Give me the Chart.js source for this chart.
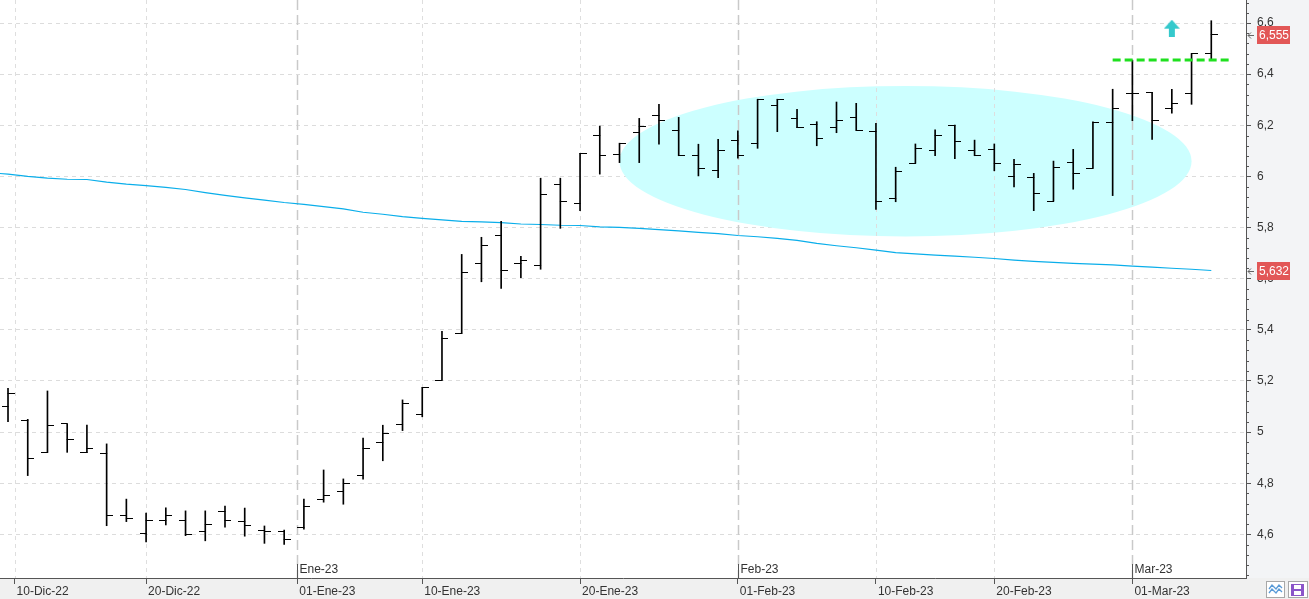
<!DOCTYPE html>
<html>
<head>
<meta charset="utf-8">
<script src="https://cdn.jsdelivr.net/npm/chart.js@4.4.0/dist/chart.umd.min.js"></script>
<style>
html, body { margin: 0; padding: 0; background: #fff; }
#wrap { width: 1309px; height: 599px; position: relative; }
</style>
</head>
<body>
<div id="wrap"><canvas id="chart"></canvas></div>
<script>
// Sessions (BME, closed 26-Dic)
const days = [
    '2022-12-09', '2022-12-12', '2022-12-13', '2022-12-14', '2022-12-15', '2022-12-16', '2022-12-19',
    '2022-12-20', '2022-12-21', '2022-12-22', '2022-12-23', '2022-12-27', '2022-12-28', '2022-12-29',
    '2022-12-30', '2023-01-02', '2023-01-03', '2023-01-04', '2023-01-05', '2023-01-06', '2023-01-09',
    '2023-01-10', '2023-01-11', '2023-01-12', '2023-01-13', '2023-01-16', '2023-01-17', '2023-01-18',
    '2023-01-19', '2023-01-20', '2023-01-23', '2023-01-24', '2023-01-25', '2023-01-26', '2023-01-27',
    '2023-01-30', '2023-01-31', '2023-02-01', '2023-02-02', '2023-02-03', '2023-02-06', '2023-02-07',
    '2023-02-08', '2023-02-09', '2023-02-10', '2023-02-13', '2023-02-14', '2023-02-15', '2023-02-16',
    '2023-02-17', '2023-02-20', '2023-02-21', '2023-02-22', '2023-02-23', '2023-02-24', '2023-02-27',
    '2023-02-28', '2023-03-01', '2023-03-02', '2023-03-03', '2023-03-06', '2023-03-07'
];

const open = [
    5.102, 5.047, 4.921, 5.032, 4.921, 4.917, 4.672, 4.602, 4.655, 4.655, 4.612, 4.688, 4.651, 4.617, 4.613,
    4.628, 4.738, 4.766, 4.832, 4.960, 5.031, 5.070, 5.203, 5.386, 5.660, 5.768, 5.660, 5.652, 5.969, 5.895,
    6.162, 6.085, 6.173, 6.240, 6.180, 6.081, 6.024, 6.141, 6.127, 6.277, 6.227, 6.204, 6.192, 6.231, 6.176,
    5.912, 6.052, 6.102, 6.201, 6.102, 6.106, 6.000, 5.997, 5.903, 6.055, 6.032, 6.212, 6.325, 6.329, 6.266,
    6.325, 6.481
];
const high = [
    5.171, 5.050, 5.161, 5.032, 5.028, 4.954, 4.738, 4.683, 4.704, 4.692, 4.692, 4.711, 4.703, 4.633, 4.617,
    4.738, 4.852, 4.817, 4.977, 5.027, 5.126, 5.175, 5.394, 5.695, 5.762, 5.824, 5.688, 5.993, 5.993, 6.090,
    6.197, 6.130, 6.227, 6.282, 6.231, 6.126, 6.145, 6.178, 6.302, 6.302, 6.262, 6.214, 6.291, 6.286, 6.208,
    6.036, 6.127, 6.182, 6.201, 6.142, 6.127, 6.067, 6.012, 6.060, 6.106, 6.214, 6.341, 6.455, 6.329, 6.341,
    6.481, 6.609
];
const low = [
    5.041, 4.830, 4.920, 4.921, 4.920, 4.634, 4.650, 4.571, 4.637, 4.595, 4.575, 4.628, 4.593, 4.565, 4.561,
    4.620, 4.726, 4.718, 4.816, 4.888, 5.006, 5.060, 5.203, 5.386, 5.588, 5.562, 5.604, 5.637, 5.797, 5.866,
    6.009, 6.054, 6.054, 6.126, 6.081, 6.002, 5.995, 6.071, 6.110, 6.175, 6.191, 6.120, 6.171, 6.180, 5.871,
    5.901, 6.051, 6.081, 6.069, 6.081, 6.022, 5.959, 5.866, 5.903, 5.950, 6.032, 5.925, 6.218, 6.145, 6.247,
    6.282, 6.455
];
const close = [
    5.152, 4.898, 5.024, 4.972, 4.937, 4.672, 4.663, 4.655, 4.672, 4.598, 4.640, 4.655, 4.633, 4.612, 4.581,
    4.711, 4.754, 4.801, 4.937, 4.995, 5.111, 5.175, 5.367, 5.625, 5.729, 5.633, 5.672, 5.930, 5.903, 6.090,
    6.081, 6.127, 6.194, 6.219, 6.081, 6.032, 6.102, 6.081, 6.302, 6.302, 6.191, 6.149, 6.219, 6.180, 5.903,
    6.021, 6.111, 6.162, 6.137, 6.081, 6.051, 6.047, 5.934, 6.036, 6.012, 6.212, 6.266, 6.325, 6.217, 6.284,
    6.481, 6.555
];

// Moving average (blue line); maLeadIn is the session before the first bar
const maLeadIn = 6.015;
const ma = [
    6.009, 6.000, 5.993, 5.989, 5.988, 5.978, 5.970, 5.964, 5.957, 5.949, 5.937, 5.926, 5.916, 5.907, 5.898,
    5.891, 5.882, 5.873, 5.860, 5.852, 5.843, 5.836, 5.830, 5.824, 5.822, 5.819, 5.814, 5.812, 5.809, 5.808,
    5.803, 5.801, 5.797, 5.792, 5.787, 5.781, 5.776, 5.769, 5.764, 5.758, 5.750, 5.738, 5.729, 5.721, 5.712,
    5.702, 5.697, 5.692, 5.688, 5.684, 5.679, 5.673, 5.668, 5.664, 5.660, 5.657, 5.654, 5.649, 5.645, 5.641,
    5.637, 5.632
];

// Axis labels
const dateTicks = ['2022-12-10', '2022-12-20', '2023-01-01', '2023-01-10', '2023-01-20', '2023-02-01', '2023-02-10', '2023-02-20', '2023-03-01'];
const dateLabels = ['10-Dic-22', '20-Dic-22', '01-Ene-23', '10-Ene-23', '20-Ene-23', '01-Feb-23', '10-Feb-23', '20-Feb-23', '01-Mar-23'];
const monthTicks = ['2023-01-01', '2023-02-01', '2023-03-01'];
const monthLabels = ['Ene-23', 'Feb-23', 'Mar-23'];
const yLabels = [4.6, 4.8, 5.0, 5.2, 5.4, 5.6, 5.8, 6.0, 6.2, 6.4, 6.6];

// Annotations
const zoneDays = ['2023-01-24', '2023-03-06'];
const zoneRange = [5.765, 6.354];
const resistanceDays = ['2023-02-28', '2023-03-07'];
const resistanceLevel = 6.455;
const signalDay = '2023-03-03';
const signalLevel = 6.58;

// calendar date -> fractional session index
function dayPos(s) {
    const t = Date.parse(s);
    for (let i = 0; i < days.length - 1; i++) {
        const a = Date.parse(days[i]);
        const b = Date.parse(days[i + 1]);
        if (t >= a && t < b) return i + (t - a) / (b - a);
    }
    return days.length - 1;
}

function fmt(v, dec) {
    let s = dec ? v.toFixed(dec) : String(Math.round(v * 10) / 10);
    return s.replace('.', ',');
}

function isMajor(v) {
    return yLabels.some(m => Math.abs(m - v) < 0.001);
}

// small canvases used as point styles
function tickImage(side) {
    const c = document.createElement('canvas');
    c.width = 13; c.height = 1;
    const g = c.getContext('2d');
    g.fillStyle = '#000';
    if (side === 'left') g.fillRect(0, 0, 7, 1);
    else g.fillRect(6, 0, 7, 1);
    return c;
}

function arrowImage() {
    const c = document.createElement('canvas');
    c.width = 16; c.height = 17;
    const g = c.getContext('2d');
    g.fillStyle = '#35c9cc';
    g.beginPath();
    g.moveTo(8, 0); g.lineTo(16, 9); g.lineTo(0, 9); g.closePath();
    g.fill();
    g.fillRect(5, 8, 6, 9);
    return c;
}

function noPadding(s) {
    s.paddingTop = 0; s.paddingBottom = 0; s.paddingLeft = 0; s.paddingRight = 0;
}

const FONT = 'Liberation Sans, Arial, sans-serif';
const lastIdx = days.length - 1;

const bgPlugin = {
    id: 'bg',
    beforeDraw(chart) {
        const { ctx, chartArea: a, width, height } = chart;
        ctx.save();
        ctx.fillStyle = '#ffffff';
        ctx.fillRect(0, 0, width, height);
        ctx.fillStyle = '#f3f4f6';
        ctx.fillRect(a.right, 0, width - a.right, a.bottom);
        ctx.fillStyle = '#f0f0f0';
        ctx.fillRect(0, a.bottom, width, height - a.bottom);
        ctx.restore();
    }
};

const zonePlugin = {
    id: 'zone',
    beforeDatasetsDraw(chart) {
        const { ctx, chartArea: a, scales: { x, y } } = chart;
        ctx.save();
        ctx.beginPath();
        ctx.rect(a.left, a.top, a.right - a.left, a.bottom - a.top);
        ctx.clip();

        // highlighted consolidation zone
        const x0 = x.getPixelForValue(dayPos(zoneDays[0]));
        const x1 = x.getPixelForValue(dayPos(zoneDays[1]));
        const y0 = y.getPixelForValue(zoneRange[1]);
        const y1 = y.getPixelForValue(zoneRange[0]);
        ctx.fillStyle = '#ccffff';
        ctx.beginPath();
        ctx.ellipse((x0 + x1) / 2, (y0 + y1) / 2, (x1 - x0) / 2, (y1 - y0) / 2, 0, 0, Math.PI * 2);
        ctx.fill();

        // vertical grid
        dateTicks.forEach(d => {
            const px = Math.round(x.getPixelForValue(dayPos(d))) + 0.5;
            const isMonth = monthTicks.includes(d);
            ctx.strokeStyle = isMonth ? '#c9c9c9' : '#dedede';
            ctx.lineWidth = isMonth ? 1.5 : 1;
            ctx.setLineDash(isMonth ? [10, 5] : [4, 4]);
            ctx.beginPath();
            ctx.moveTo(px, a.top);
            ctx.lineTo(px, a.bottom);
            ctx.stroke();
        });
        ctx.restore();
    }
};

const overlayPlugin = {
    id: 'overlay',
    afterDraw(chart) {
        const { ctx, chartArea: a, scales: { x, y } } = chart;
        ctx.save();

        // minor ticks on price axis
        ctx.strokeStyle = '#555';
        ctx.lineWidth = 1;
        y.ticks.forEach(t => {
            if (isMajor(t.value)) return;
            const py = Math.round(y.getPixelForValue(t.value)) + 0.5;
            ctx.beginPath();
            ctx.moveTo(a.right, py);
            ctx.lineTo(a.right + 3, py);
            ctx.stroke();
        });

        // month markers
        ctx.font = '12px ' + FONT;
        ctx.fillStyle = '#333';
        ctx.textBaseline = 'middle';
        ctx.textAlign = 'left';
        monthTicks.forEach((d, i) => {
            const px = Math.round(x.getPixelForValue(dayPos(d))) + 0.5;
            ctx.beginPath();
            ctx.moveTo(px, a.bottom - 14);
            ctx.lineTo(px, a.bottom);
            ctx.stroke();
            ctx.fillText(monthLabels[i], px + 2, a.bottom - 8);
        });

        // last value tags
        const tags = [close[lastIdx], ma[lastIdx]];
        tags.forEach(v => {
            const py = Math.round(y.getPixelForValue(v));
            ctx.fillStyle = '#e25757';
            ctx.fillRect(a.right + 11, py - 9, 33, 18);
            ctx.fillStyle = '#ffffff';
            ctx.font = '12px ' + FONT;
            ctx.fillText(fmt(v, 3), a.right + 13, py + 1);
            ctx.strokeStyle = '#666';
            ctx.beginPath();
            ctx.moveTo(a.right + 8, py + 0.5);
            ctx.lineTo(a.right + 2, py + 0.5);
            ctx.moveTo(a.right + 5, py - 2.5);
            ctx.lineTo(a.right + 2, py + 0.5);
            ctx.lineTo(a.right + 5, py + 3.5);
            ctx.stroke();
        });

        // toolbar buttons
        const by = a.bottom + 3;
        ctx.fillStyle = '#ffffff';
        ctx.strokeStyle = '#a8a8a8';
        ctx.fillRect(1266.5, by + 0.5, 18, 16);
        ctx.strokeRect(1266.5, by + 0.5, 18, 16);
        ctx.fillRect(1288.5, by + 0.5, 19, 16);
        ctx.strokeRect(1288.5, by + 0.5, 19, 16);
        ctx.strokeStyle = '#5a9bd8';
        ctx.lineWidth = 1.3;
        [by + 6, by + 10].forEach(yy => {
            ctx.beginPath();
            ctx.moveTo(1269, yy + 2); ctx.lineTo(1272, yy - 2); ctx.lineTo(1276, yy + 2);
            ctx.lineTo(1279, yy - 2); ctx.lineTo(1282, yy + 1);
            ctx.stroke();
        });
        ctx.fillStyle = '#8b55c9';
        ctx.fillRect(1291, by + 3, 13, 12);
        ctx.fillStyle = '#ffffff';
        ctx.fillRect(1294, by + 4, 7, 4);
        ctx.fillRect(1294, by + 10, 7, 4);
        ctx.restore();
    }
};

const hlData = days.map((d, i) => ({ x: i, y: [low[i], high[i]] }));
const openData = days.map((d, i) => ({ x: i, y: open[i] }));
const closeData = days.map((d, i) => ({ x: i, y: close[i] }));
const maData = [{ x: -1, y: maLeadIn }].concat(ma.map((v, i) => ({ x: i, y: v })));
const rFrom = dayPos(resistanceDays[0]);
const rTo = dayPos(resistanceDays[1]) + 0.95;
const resistanceData = [{ x: rFrom, y: resistanceLevel }, { x: rTo, y: resistanceLevel }];
const signalData = [{ x: dayPos(signalDay), y: signalLevel }];

const chart = new Chart(document.getElementById('chart'), {
    type: 'bar',
    data: {
        datasets: [
            {
                type: 'scatter', data: signalData, pointStyle: arrowImage(), order: 0
            },
            {
                type: 'line', data: resistanceData, borderColor: '#1fe01f', borderWidth: 3,
                borderDash: [8, 4], pointRadius: 0, order: 1
            },
            {
                type: 'scatter', data: openData, pointStyle: tickImage('left'), order: 2
            },
            {
                type: 'scatter', data: closeData, pointStyle: tickImage('right'), order: 2
            },
            {
                type: 'bar', data: hlData, backgroundColor: '#000', borderWidth: 0,
                barThickness: 1, grouped: false, order: 3
            },
            {
                type: 'line', data: maData, borderColor: '#0aaeea', borderWidth: 1.2,
                pointRadius: 0, tension: 0, order: 5
            }
        ]
    },
    options: {
        responsive: true,
        maintainAspectRatio: false,
        animation: false,
        events: [],
        layout: { padding: 0, autoPadding: false },
        plugins: { legend: { display: false }, tooltip: { enabled: false } },
        scales: {
            x: {
                type: 'linear',
                min: -0.406,
                max: 62.76,
                offset: false,
                afterBuildTicks: s => { s.ticks = dateTicks.map(d => ({ value: dayPos(d) })); },
                afterFit: s => { s.height = 21; noPadding(s); },
                ticks: {
                    autoSkip: false, maxRotation: 0, align: 'start', labelOffset: 2, padding: 0,
                    color: '#333', font: { family: FONT, size: 12 },
                    callback: (v, i) => dateLabels[i]
                },
                grid: { drawOnChartArea: false, offset: false, tickLength: 6, color: '#555', tickColor: '#555' },
                border: { color: '#555' }
            },
            y: {
                type: 'linear',
                position: 'right',
                min: 4.4295,
                max: 6.69,
                beginAtZero: false,
                afterBuildTicks: s => {
                    const t = [];
                    for (let k = 0; k <= 56; k++) t.push({ value: Math.round((4.44 + k * 0.04) * 100) / 100 });
                    s.ticks = t;
                },
                afterFit: s => { s.width = 63; noPadding(s); },
                ticks: {
                    autoSkip: false, padding: 6, color: '#333', font: { family: FONT, size: 12 },
                    callback: v => isMajor(v) ? fmt(v) : ''
                },
                grid: {
                    color: c => isMajor(c.tick.value) ? '#dcdcdc' : 'rgba(0,0,0,0)',
                    tickColor: c => isMajor(c.tick.value) ? '#555' : 'rgba(0,0,0,0)',
                    tickLength: 5
                },
                border: { color: '#555', dash: [4, 4] }
            }
        }
    },
    plugins: [bgPlugin, zonePlugin, overlayPlugin]
});
</script>
</body>
</html>
